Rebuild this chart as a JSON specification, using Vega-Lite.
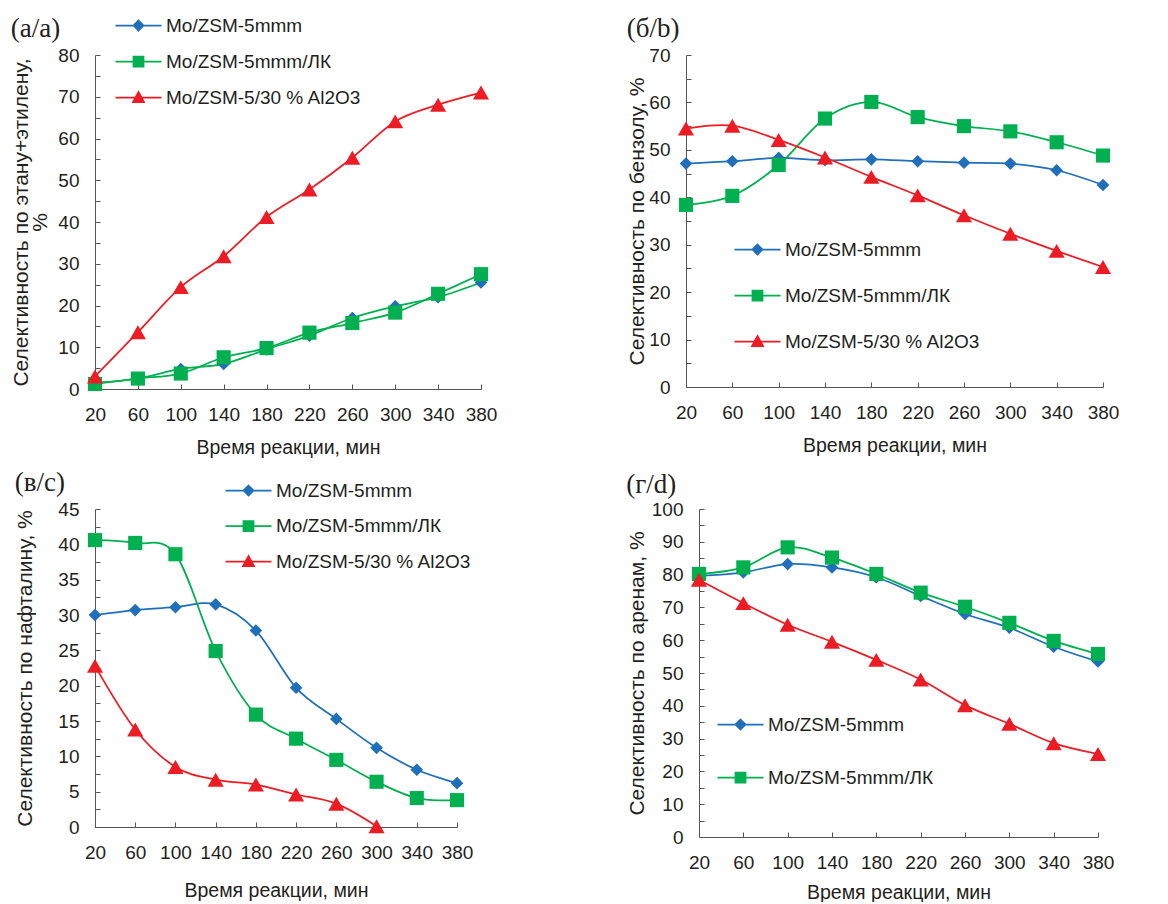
{
  "$schema": "https://vega.github.io/schema/vega-lite/v6.json",
  "padding": {"left": 10, "top": 15, "right": 0, "bottom": 0},
  "background": "white",
  "spacing": 12,
  "config": {
    "view": {"stroke": null},
    "font": "Liberation Sans",
    "axis": {
      "labelFont": "Liberation Sans", "labelFontSize": 19, "labelColor": "#231F20", "labelOverlap": false, "labelFlush": false,
      "titleFont": "Liberation Sans", "titleFontSize": 20, "titleFontWeight": "normal", "titleColor": "#231F20",
      "domainColor": "#555555", "tickColor": "#555555", "grid": false, "tickSize": -5
    },
    "axisX": {"labelPadding": 21, "titleFontSize": 19.5},
    "axisY": {"labelPadding": 21, "titleFontSize": 21, "titleLineHeight": 19},
    "legend": {
      "labelFont": "Liberation Sans", "labelFontSize": 19, "labelColor": "#231F20", "labelLimit": 0,
      "padding": 0, "symbolSize": 100, "labelOffset": 18, "title": null, "symbolOpacity": 1
    },
    "title": {"font": "Liberation Serif", "fontSize": 27, "fontWeight": "normal", "color": "#231F20", "anchor": "start", "frame": "bounds", "offset": 6}
  },
  "resolve": {"scale": {"color": "independent"}, "legend": {"color": "independent"}},
  "datasets": {
    "a": [
      {"t": 20, "s": "Mo/ZSM-5mmm", "v": 1.5}, {"t": 60, "s": "Mo/ZSM-5mmm", "v": 2.5}, {"t": 100, "s": "Mo/ZSM-5mmm", "v": 4.8}, {"t": 140, "s": "Mo/ZSM-5mmm", "v": 6.0}, {"t": 180, "s": "Mo/ZSM-5mmm", "v": 9.5}, {"t": 220, "s": "Mo/ZSM-5mmm", "v": 12.8}, {"t": 260, "s": "Mo/ZSM-5mmm", "v": 17.0}, {"t": 300, "s": "Mo/ZSM-5mmm", "v": 19.8}, {"t": 340, "s": "Mo/ZSM-5mmm", "v": 22.0}, {"t": 380, "s": "Mo/ZSM-5mmm", "v": 25.5},
      {"t": 20, "s": "Mo/ZSM-5mmm/ЛК", "v": 1.2}, {"t": 60, "s": "Mo/ZSM-5mmm/ЛК", "v": 2.5}, {"t": 100, "s": "Mo/ZSM-5mmm/ЛК", "v": 3.7}, {"t": 140, "s": "Mo/ZSM-5mmm/ЛК", "v": 7.6}, {"t": 180, "s": "Mo/ZSM-5mmm/ЛК", "v": 9.8}, {"t": 220, "s": "Mo/ZSM-5mmm/ЛК", "v": 13.5}, {"t": 260, "s": "Mo/ZSM-5mmm/ЛК", "v": 15.8}, {"t": 300, "s": "Mo/ZSM-5mmm/ЛК", "v": 18.3}, {"t": 340, "s": "Mo/ZSM-5mmm/ЛК", "v": 22.8}, {"t": 380, "s": "Mo/ZSM-5mmm/ЛК", "v": 27.5},
      {"t": 20, "s": "Mo/ZSM-5/30 % Al2O3", "v": 3.0}, {"t": 60, "s": "Mo/ZSM-5/30 % Al2O3", "v": 13.6}, {"t": 100, "s": "Mo/ZSM-5/30 % Al2O3", "v": 24.4}, {"t": 140, "s": "Mo/ZSM-5/30 % Al2O3", "v": 31.8}, {"t": 180, "s": "Mo/ZSM-5/30 % Al2O3", "v": 41.2}, {"t": 220, "s": "Mo/ZSM-5/30 % Al2O3", "v": 47.8}, {"t": 260, "s": "Mo/ZSM-5/30 % Al2O3", "v": 55.4}, {"t": 300, "s": "Mo/ZSM-5/30 % Al2O3", "v": 64.1}, {"t": 340, "s": "Mo/ZSM-5/30 % Al2O3", "v": 68.1}, {"t": 380, "s": "Mo/ZSM-5/30 % Al2O3", "v": 71.0}
    ],
    "b": [
      {"t": 20, "s": "Mo/ZSM-5mmm", "v": 47.1}, {"t": 60, "s": "Mo/ZSM-5mmm", "v": 47.6}, {"t": 100, "s": "Mo/ZSM-5mmm", "v": 48.3}, {"t": 140, "s": "Mo/ZSM-5mmm", "v": 47.8}, {"t": 180, "s": "Mo/ZSM-5mmm", "v": 48.0}, {"t": 220, "s": "Mo/ZSM-5mmm", "v": 47.6}, {"t": 260, "s": "Mo/ZSM-5mmm", "v": 47.3}, {"t": 300, "s": "Mo/ZSM-5mmm", "v": 47.1}, {"t": 340, "s": "Mo/ZSM-5mmm", "v": 45.7}, {"t": 380, "s": "Mo/ZSM-5mmm", "v": 42.6},
      {"t": 20, "s": "Mo/ZSM-5mmm/ЛК", "v": 38.4}, {"t": 60, "s": "Mo/ZSM-5mmm/ЛК", "v": 40.3}, {"t": 100, "s": "Mo/ZSM-5mmm/ЛК", "v": 46.8}, {"t": 140, "s": "Mo/ZSM-5mmm/ЛК", "v": 56.6}, {"t": 180, "s": "Mo/ZSM-5mmm/ЛК", "v": 60.1}, {"t": 220, "s": "Mo/ZSM-5mmm/ЛК", "v": 56.9}, {"t": 260, "s": "Mo/ZSM-5mmm/ЛК", "v": 55.0}, {"t": 300, "s": "Mo/ZSM-5mmm/ЛК", "v": 53.9}, {"t": 340, "s": "Mo/ZSM-5mmm/ЛК", "v": 51.6}, {"t": 380, "s": "Mo/ZSM-5mmm/ЛК", "v": 48.8},
      {"t": 20, "s": "Mo/ZSM-5/30 % Al2O3", "v": 54.5}, {"t": 60, "s": "Mo/ZSM-5/30 % Al2O3", "v": 55.1}, {"t": 100, "s": "Mo/ZSM-5/30 % Al2O3", "v": 52.1}, {"t": 140, "s": "Mo/ZSM-5/30 % Al2O3", "v": 48.4}, {"t": 180, "s": "Mo/ZSM-5/30 % Al2O3", "v": 44.3}, {"t": 220, "s": "Mo/ZSM-5/30 % Al2O3", "v": 40.4}, {"t": 260, "s": "Mo/ZSM-5/30 % Al2O3", "v": 36.2}, {"t": 300, "s": "Mo/ZSM-5/30 % Al2O3", "v": 32.3}, {"t": 340, "s": "Mo/ZSM-5/30 % Al2O3", "v": 28.7}, {"t": 380, "s": "Mo/ZSM-5/30 % Al2O3", "v": 25.3}
    ],
    "c": [
      {"t": 20, "s": "Mo/ZSM-5mmm", "v": 30.0}, {"t": 60, "s": "Mo/ZSM-5mmm", "v": 30.7}, {"t": 100, "s": "Mo/ZSM-5mmm", "v": 31.1}, {"t": 140, "s": "Mo/ZSM-5mmm", "v": 31.5}, {"t": 180, "s": "Mo/ZSM-5mmm", "v": 27.8}, {"t": 220, "s": "Mo/ZSM-5mmm", "v": 19.7}, {"t": 260, "s": "Mo/ZSM-5mmm", "v": 15.3}, {"t": 300, "s": "Mo/ZSM-5mmm", "v": 11.2}, {"t": 340, "s": "Mo/ZSM-5mmm", "v": 8.1}, {"t": 380, "s": "Mo/ZSM-5mmm", "v": 6.2},
      {"t": 20, "s": "Mo/ZSM-5mmm/ЛК", "v": 40.6}, {"t": 60, "s": "Mo/ZSM-5mmm/ЛК", "v": 40.2}, {"t": 100, "s": "Mo/ZSM-5mmm/ЛК", "v": 38.6}, {"t": 140, "s": "Mo/ZSM-5mmm/ЛК", "v": 24.9}, {"t": 180, "s": "Mo/ZSM-5mmm/ЛК", "v": 15.9}, {"t": 220, "s": "Mo/ZSM-5mmm/ЛК", "v": 12.5}, {"t": 260, "s": "Mo/ZSM-5mmm/ЛК", "v": 9.5}, {"t": 300, "s": "Mo/ZSM-5mmm/ЛК", "v": 6.4}, {"t": 340, "s": "Mo/ZSM-5mmm/ЛК", "v": 4.1}, {"t": 380, "s": "Mo/ZSM-5mmm/ЛК", "v": 3.8},
      {"t": 20, "s": "Mo/ZSM-5/30 % Al2O3", "v": 22.8}, {"t": 60, "s": "Mo/ZSM-5/30 % Al2O3", "v": 13.8}, {"t": 100, "s": "Mo/ZSM-5/30 % Al2O3", "v": 8.5}, {"t": 140, "s": "Mo/ZSM-5/30 % Al2O3", "v": 6.7}, {"t": 180, "s": "Mo/ZSM-5/30 % Al2O3", "v": 6.0}, {"t": 220, "s": "Mo/ZSM-5/30 % Al2O3", "v": 4.6}, {"t": 260, "s": "Mo/ZSM-5/30 % Al2O3", "v": 3.3}, {"t": 300, "s": "Mo/ZSM-5/30 % Al2O3", "v": 0.1}
    ],
    "d": [
      {"t": 20, "s": "Mo/ZSM-5mmm", "v": 79.6}, {"t": 60, "s": "Mo/ZSM-5mmm", "v": 80.7}, {"t": 100, "s": "Mo/ZSM-5mmm", "v": 83.2}, {"t": 140, "s": "Mo/ZSM-5mmm", "v": 82.2}, {"t": 180, "s": "Mo/ZSM-5mmm", "v": 79.2}, {"t": 220, "s": "Mo/ZSM-5mmm", "v": 73.5}, {"t": 260, "s": "Mo/ZSM-5mmm", "v": 68.0}, {"t": 300, "s": "Mo/ZSM-5mmm", "v": 63.8}, {"t": 340, "s": "Mo/ZSM-5mmm", "v": 58.0}, {"t": 380, "s": "Mo/ZSM-5mmm", "v": 53.5},
      {"t": 20, "s": "Mo/ZSM-5mmm/ЛК", "v": 80.2}, {"t": 60, "s": "Mo/ZSM-5mmm/ЛК", "v": 82.2}, {"t": 100, "s": "Mo/ZSM-5mmm/ЛК", "v": 88.3}, {"t": 140, "s": "Mo/ZSM-5mmm/ЛК", "v": 85.2}, {"t": 180, "s": "Mo/ZSM-5mmm/ЛК", "v": 80.2}, {"t": 220, "s": "Mo/ZSM-5mmm/ЛК", "v": 74.5}, {"t": 260, "s": "Mo/ZSM-5mmm/ЛК", "v": 70.2}, {"t": 300, "s": "Mo/ZSM-5mmm/ЛК", "v": 65.3}, {"t": 340, "s": "Mo/ZSM-5mmm/ЛК", "v": 59.8}, {"t": 380, "s": "Mo/ZSM-5mmm/ЛК", "v": 55.8},
      {"t": 20, "s": "Mo/ZSM-5/30 % Al2O3", "v": 78.4}, {"t": 60, "s": "Mo/ZSM-5/30 % Al2O3", "v": 71.3}, {"t": 100, "s": "Mo/ZSM-5/30 % Al2O3", "v": 64.7}, {"t": 140, "s": "Mo/ZSM-5/30 % Al2O3", "v": 59.5}, {"t": 180, "s": "Mo/ZSM-5/30 % Al2O3", "v": 54.0}, {"t": 220, "s": "Mo/ZSM-5/30 % Al2O3", "v": 48.0}, {"t": 260, "s": "Mo/ZSM-5/30 % Al2O3", "v": 40.2}, {"t": 300, "s": "Mo/ZSM-5/30 % Al2O3", "v": 34.5}, {"t": 340, "s": "Mo/ZSM-5/30 % Al2O3", "v": 28.6}, {"t": 380, "s": "Mo/ZSM-5/30 % Al2O3", "v": 25.3}
    ]
  },
  "vconcat": [
    {
      "spacing": 129,
      "resolve": {"scale": {"color": "independent"}, "legend": {"color": "independent"}},
      "hconcat": [
        {
          "width": 386, "height": 334,
          "title": {"text": "(а/a)", "offset": -27},
          "data": {"name": "a"},
          "encoding": {
            "x": {"field": "t", "type": "quantitative", "scale": {"domain": [20, 380], "nice": false, "zero": false}, "axis": {"values": [20, 60, 100, 140, 180, 220, 260, 300, 340, 380], "title": "Время реакции, мин", "titlePadding": 14}},
            "y": {"field": "v", "type": "quantitative", "scale": {"domain": [0, 80], "nice": false}, "axis": {"values": [0, 5, 10, 15, 20, 25, 30, 35, 40, 45, 50, 55, 60, 65, 70, 75, 80], "labelExpr": "datum.value % 10 === 0 ? datum.label : ''", "title": ["Селективность по этану+этилену,", "%"], "titlePadding": 7}},
            "color": {"field": "s", "type": "nominal", "scale": {"domain": ["Mo/ZSM-5mmm", "Mo/ZSM-5mmm/ЛК", "Mo/ZSM-5/30 % Al2O3"], "range": ["#1F6FBA", "#00B050", "#ED1C24"]},
              "legend": {"orient": "none", "legendX": 34, "legendY": -39, "rowPadding": 16,
                "encode": {"symbols": {"update": {
                  "shape": {"signal": "datum.value === 'Mo/ZSM-5mmm' ? 'M-4.6,0H4.6M0,-1L1,0L0,1L-1,0Z' : datum.value === 'Mo/ZSM-5mmm/ЛК' ? 'M-4.6,0H4.6M-1,-1H1V1H-1Z' : 'M-4.6,0H4.6M0,-1.1L1.1,0.9L-1.1,0.9Z'"},
                  "size": {"value": 100},
                  "strokeWidth": {"value": 1.75},
                  "opacity": {"value": 1},
                  "fill": {"signal": "datum.value === 'Mo/ZSM-5mmm' ? '#1F6FBA' : datum.value === 'Mo/ZSM-5mmm/ЛК' ? '#00B050' : '#ED1C24'"},
                  "stroke": {"signal": "datum.value === 'Mo/ZSM-5/30 % Al2O3' ? '#ED1C24' : '#00B050'"}
                }}}}}
          },
          "layer": [
            {"mark": {"type": "line", "interpolate": "cardinal", "strokeWidth": 1.75},
             "encoding": {"color": {"condition": {"test": "datum.s === 'Mo/ZSM-5mmm'", "value": "#00B050"}, "field": "s", "type": "nominal"}}},
            {"transform": [{"filter": "datum.s === 'Mo/ZSM-5mmm'"}], "mark": {"type": "point", "shape": "diamond", "size": 160, "filled": true, "opacity": 1}},
            {"transform": [{"filter": "datum.s === 'Mo/ZSM-5mmm/ЛК'"}], "mark": {"type": "point", "shape": "square", "size": 200, "filled": true, "opacity": 1}},
            {"transform": [{"filter": "datum.s === 'Mo/ZSM-5/30 % Al2O3'"}], "mark": {"type": "point", "shape": "triangle-up", "size": 260, "filled": true, "opacity": 1}}
          ]
        },
        {
          "width": 417, "height": 332,
          "title": {"text": "(б/b)", "offset": 3},
          "data": {"name": "b"},
          "encoding": {
            "x": {"field": "t", "type": "quantitative", "scale": {"domain": [20, 380], "nice": false, "zero": false}, "axis": {"values": [20, 60, 100, 140, 180, 220, 260, 300, 340, 380], "title": "Время реакции, мин", "titlePadding": 14}},
            "y": {"field": "v", "type": "quantitative", "scale": {"domain": [0, 70], "nice": false}, "axis": {"values": [0, 5, 10, 15, 20, 25, 30, 35, 40, 45, 50, 55, 60, 65, 70], "labelExpr": "datum.value % 10 === 0 ? datum.label : ''", "title": "Селективность по бензолу, %", "titlePadding": 1}},
            "color": {"field": "s", "type": "nominal", "scale": {"domain": ["Mo/ZSM-5mmm", "Mo/ZSM-5mmm/ЛК", "Mo/ZSM-5/30 % Al2O3"], "range": ["#1F6FBA", "#00B050", "#ED1C24"]},
              "legend": {"orient": "none", "legendX": 62, "legendY": 185, "rowPadding": 26,
                "encode": {"symbols": {"update": {
                  "shape": {"signal": "datum.value === 'Mo/ZSM-5mmm' ? 'M-4.6,0H4.6M0,-1L1,0L0,1L-1,0Z' : datum.value === 'Mo/ZSM-5mmm/ЛК' ? 'M-4.6,0H4.6M-1,-1H1V1H-1Z' : 'M-4.6,0H4.6M0,-1.1L1.1,0.9L-1.1,0.9Z'"},
                  "size": {"value": 100},
                  "strokeWidth": {"value": 1.75},
                  "opacity": {"value": 1},
                  "fill": {"signal": "datum.value === 'Mo/ZSM-5mmm' ? '#1F6FBA' : datum.value === 'Mo/ZSM-5mmm/ЛК' ? '#00B050' : '#ED1C24'"},
                  "stroke": {"signal": "datum.value === 'Mo/ZSM-5mmm' ? '#1F6FBA' : datum.value === 'Mo/ZSM-5mmm/ЛК' ? '#00B050' : '#ED1C24'"}
                }}}}}
          },
          "layer": [
            {"mark": {"type": "line", "interpolate": "cardinal", "strokeWidth": 1.75}},
            {"transform": [{"filter": "datum.s === 'Mo/ZSM-5mmm'"}], "mark": {"type": "point", "shape": "diamond", "size": 160, "filled": true, "opacity": 1}},
            {"transform": [{"filter": "datum.s === 'Mo/ZSM-5mmm/ЛК'"}], "mark": {"type": "point", "shape": "square", "size": 200, "filled": true, "opacity": 1}},
            {"transform": [{"filter": "datum.s === 'Mo/ZSM-5/30 % Al2O3'"}], "mark": {"type": "point", "shape": "triangle-up", "size": 260, "filled": true, "opacity": 1}}
          ]
        }
      ]
    },
    {
      "spacing": 153,
      "resolve": {"scale": {"color": "independent"}, "legend": {"color": "independent"}},
      "hconcat": [
        {
          "width": 362, "height": 318,
          "title": {"text": "(в/c)", "offset": -16},
          "data": {"name": "c"},
          "encoding": {
            "x": {"field": "t", "type": "quantitative", "scale": {"domain": [20, 380], "nice": false, "zero": false}, "axis": {"values": [20, 60, 100, 140, 180, 220, 260, 300, 340, 380], "title": "Время реакции, мин", "titlePadding": 19}},
            "y": {"field": "v", "type": "quantitative", "scale": {"domain": [0, 45], "nice": false}, "axis": {"values": [0, 2.5, 5, 7.5, 10, 12.5, 15, 17.5, 20, 22.5, 25, 27.5, 30, 32.5, 35, 37.5, 40, 42.5, 45], "labelExpr": "datum.value % 5 === 0 ? datum.label : ''", "title": "Селективность по нафталину, %", "titlePadding": 22}},
            "color": {"field": "s", "type": "nominal", "scale": {"domain": ["Mo/ZSM-5mmm", "Mo/ZSM-5mmm/ЛК", "Mo/ZSM-5/30 % Al2O3"], "range": ["#1F6FBA", "#00B050", "#ED1C24"]},
              "legend": {"orient": "none", "legendX": 144, "legendY": -28, "rowPadding": 15.5,
                "encode": {"symbols": {"update": {
                  "shape": {"signal": "datum.value === 'Mo/ZSM-5mmm' ? 'M-4.6,0H4.6M0,-1L1,0L0,1L-1,0Z' : datum.value === 'Mo/ZSM-5mmm/ЛК' ? 'M-4.6,0H4.6M-1,-1H1V1H-1Z' : 'M-4.6,0H4.6M0,-1.1L1.1,0.9L-1.1,0.9Z'"},
                  "size": {"value": 100},
                  "strokeWidth": {"value": 1.75},
                  "opacity": {"value": 1},
                  "fill": {"signal": "datum.value === 'Mo/ZSM-5mmm' ? '#1F6FBA' : datum.value === 'Mo/ZSM-5mmm/ЛК' ? '#00B050' : '#ED1C24'"},
                  "stroke": {"signal": "datum.value === 'Mo/ZSM-5mmm' ? '#1F6FBA' : datum.value === 'Mo/ZSM-5mmm/ЛК' ? '#00B050' : '#ED1C24'"}
                }}}}}
          },
          "layer": [
            {"mark": {"type": "line", "interpolate": "cardinal", "strokeWidth": 1.75}},
            {"transform": [{"filter": "datum.s === 'Mo/ZSM-5mmm'"}], "mark": {"type": "point", "shape": "diamond", "size": 160, "filled": true, "opacity": 1}},
            {"transform": [{"filter": "datum.s === 'Mo/ZSM-5mmm/ЛК'"}], "mark": {"type": "point", "shape": "square", "size": 200, "filled": true, "opacity": 1}},
            {"transform": [{"filter": "datum.s === 'Mo/ZSM-5/30 % Al2O3'"}], "mark": {"type": "point", "shape": "triangle-up", "size": 260, "filled": true, "opacity": 1}}
          ]
        },
        {
          "width": 399, "height": 328,
          "title": {"text": "(г/d)", "offset": 1},
          "data": {"name": "d"},
          "encoding": {
            "x": {"field": "t", "type": "quantitative", "scale": {"domain": [20, 380], "nice": false, "zero": false}, "axis": {"values": [20, 60, 100, 140, 180, 220, 260, 300, 340, 380], "title": "Время реакции, мин", "titlePadding": 11}},
            "y": {"field": "v", "type": "quantitative", "scale": {"domain": [0, 100], "nice": false}, "axis": {"values": [0, 5, 10, 15, 20, 25, 30, 35, 40, 45, 50, 55, 60, 65, 70, 75, 80, 85, 90, 95, 100], "labelExpr": "datum.value % 10 === 0 ? datum.label : ''", "title": "Селективность по аренам, %", "titlePadding": 4}},
            "color": {"field": "s", "type": "nominal", "scale": {"domain": ["Mo/ZSM-5mmm", "Mo/ZSM-5mmm/ЛК", "Mo/ZSM-5/30 % Al2O3"], "range": ["#1F6FBA", "#00B050", "#ED1C24"]},
              "legend": {"orient": "none", "legendX": 32, "legendY": 206, "rowPadding": 33, "values": ["Mo/ZSM-5mmm", "Mo/ZSM-5mmm/ЛК"],
                "encode": {"symbols": {"update": {
                  "shape": {"signal": "datum.value === 'Mo/ZSM-5mmm' ? 'M-4.6,0H4.6M0,-1L1,0L0,1L-1,0Z' : datum.value === 'Mo/ZSM-5mmm/ЛК' ? 'M-4.6,0H4.6M-1,-1H1V1H-1Z' : 'M-4.6,0H4.6M0,-1.1L1.1,0.9L-1.1,0.9Z'"},
                  "size": {"value": 100},
                  "strokeWidth": {"value": 1.75},
                  "opacity": {"value": 1},
                  "fill": {"signal": "datum.value === 'Mo/ZSM-5mmm' ? '#1F6FBA' : datum.value === 'Mo/ZSM-5mmm/ЛК' ? '#00B050' : '#ED1C24'"},
                  "stroke": {"signal": "datum.value === 'Mo/ZSM-5mmm' ? '#1F6FBA' : datum.value === 'Mo/ZSM-5mmm/ЛК' ? '#00B050' : '#ED1C24'"}
                }}}}}
          },
          "layer": [
            {"mark": {"type": "line", "interpolate": "cardinal", "strokeWidth": 1.75}},
            {"transform": [{"filter": "datum.s === 'Mo/ZSM-5mmm'"}], "mark": {"type": "point", "shape": "diamond", "size": 160, "filled": true, "opacity": 1}},
            {"transform": [{"filter": "datum.s === 'Mo/ZSM-5mmm/ЛК'"}], "mark": {"type": "point", "shape": "square", "size": 200, "filled": true, "opacity": 1}},
            {"transform": [{"filter": "datum.s === 'Mo/ZSM-5/30 % Al2O3'"}], "mark": {"type": "point", "shape": "triangle-up", "size": 260, "filled": true, "opacity": 1}}
          ]
        }
      ]
    }
  ]
}
